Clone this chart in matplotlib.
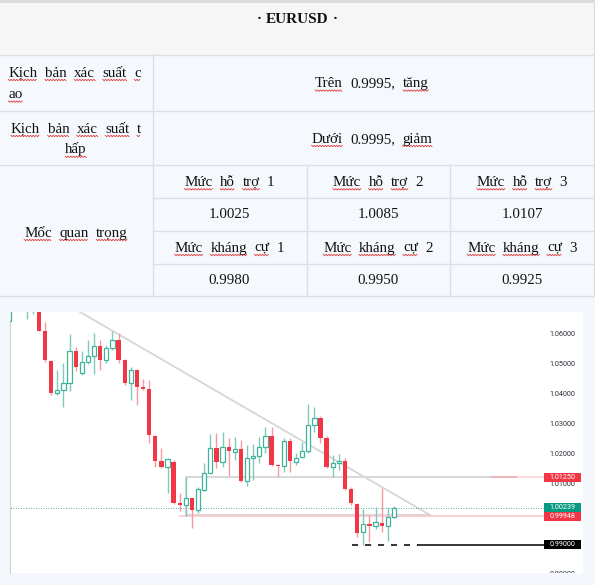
import numpy as np
import matplotlib
matplotlib.use('Agg')
import matplotlib.pyplot as plt
from matplotlib.font_manager import FontProperties
from matplotlib.patches import Rectangle

# bảng thông tin
title = "· EURUSD ·"
high_label = ["Kịch bản xác suất c", "ao"]
high_text = "Trên 0.9995, tăng"
low_label = ["Kịch bản xác suất t", "hấp"]
low_text = "Dưới 0.9995, giảm"
key_label = "Mốc quan trọng"
support_names = ["Mức hỗ trợ 1", "Mức hỗ trợ 2", "Mức hỗ trợ 3"]
support_values = ["1.0025", "1.0085", "1.0107"]
resist_names = ["Mức kháng cự 1", "Mức kháng cự 2", "Mức kháng cự 3"]
resist_values = ["0.9980", "0.9950", "0.9925"]

# nến ngày EURUSD
opens = [1.0645, 1.0700, 1.0730, 1.0685, 1.0690,
         1.0700, 1.0613, 1.0513, 1.0406, 1.0415, 1.0439, 1.0545, 1.0472, 1.0509, 1.0530,
         1.0563, 1.0517, 1.0556, 1.0581, 1.0517, 1.0439, 1.0483, 1.0426, 1.0418, 1.0262,
         1.0180, 1.0158, 1.0175, 1.0040, 1.0032, 1.0055, 1.0016, 1.0082, 1.0140, 1.0223,
         1.0177, 1.0227, 1.0209, 1.0218, 1.0113, 1.0190, 1.0197, 1.0227, 1.0262, 1.0166,
         1.0163, 1.0247, 1.0175, 1.0193, 1.0212, 1.0299, 1.0321, 1.0257, 1.0158, 1.0173,
         1.0179, 1.0085, 1.0035, 0.9941, 0.9969, 0.9962, 0.9973, 0.9963, 0.9993]
highs = [1.0720, 1.0745, 1.0750, 1.0725, 1.0725,
         1.0705, 1.0642, 1.0517, 1.0483, 1.0506, 1.0602, 1.0558, 1.0545, 1.0581, 1.0606,
         1.0581, 1.0567, 1.0613, 1.0606, 1.0520, 1.0491, 1.0487, 1.0453, 1.0449, 1.0266,
         1.0221, 1.0188, 1.0182, 1.0071, 1.0125, 1.0057, 1.0093, 1.0171, 1.0269, 1.0273,
         1.0277, 1.0257, 1.0258, 1.0249, 1.0232, 1.0236, 1.0258, 1.0291, 1.0293, 1.0168,
         1.0255, 1.0255, 1.0205, 1.0243, 1.0369, 1.0360, 1.0329, 1.0262, 1.0199, 1.0202,
         1.0188, 1.0093, 1.0038, 1.0018, 0.9999, 1.0027, 1.0090, 1.0027, 1.0029]
lows = [1.0642, 1.0690, 1.0690, 1.0653, 1.0669,
        1.0612, 1.0509, 1.0400, 1.0398, 1.0358, 1.0413, 1.0480, 1.0465, 1.0502, 1.0470,
        1.0483, 1.0506, 1.0550, 1.0506, 1.0433, 1.0383, 1.0367, 1.0416, 1.0238, 1.0160,
        1.0155, 1.0073, 1.0036, 1.0013, 0.9996, 0.9955, 1.0007, 1.0080, 1.0138, 1.0155,
        1.0160, 1.0130, 1.0182, 1.0108, 1.0097, 1.0116, 1.0171, 1.0205, 1.0163, 1.0125,
        1.0143, 1.0143, 1.0166, 1.0188, 1.0205, 1.0277, 1.0238, 1.0155, 1.0125, 1.0149,
        1.0083, 1.0032, 0.9927, 0.9899, 0.9910, 0.9952, 0.9943, 0.9913, 0.9988]
closes = [1.0700, 1.0730, 1.0705, 1.0712, 1.0715,
          1.0613, 1.0517, 1.0406, 1.0415, 1.0439, 1.0545, 1.0491, 1.0509, 1.0530, 1.0563,
          1.0517, 1.0556, 1.0581, 1.0517, 1.0439, 1.0483, 1.0426, 1.0419, 1.0266, 1.0180,
          1.0158, 1.0186, 1.0038, 1.0033, 1.0055, 1.0016, 1.0085, 1.0140, 1.0223, 1.0177,
          1.0227, 1.0213, 1.0218, 1.0113, 1.0190, 1.0197, 1.0227, 1.0262, 1.0166, 1.0163,
          1.0247, 1.0180, 1.0190, 1.0212, 1.0299, 1.0321, 1.0257, 1.0158, 1.0171, 1.0179,
          1.0085, 1.0038, 0.9940, 0.9969, 0.9962, 0.9977, 0.9963, 0.9993, 1.00239]

# mức giá trên trục phải
price_ticks = [1.06, 1.05, 1.04, 1.03, 1.02, 1.01, 0.98]
mark_prices = [1.0125, 1.00239, 0.99948, 0.99]
mark_colors = ['#f23645', '#089981', '#f23645', '#000000']

# đường xu hướng, vùng giá
trend_x = [10.0, 68.9]
trend_y = [1.0696, 0.9999]
zone_x = [79.0, 29.0, 29.0, 68.9]
zone_y = [1.0125, 1.0125, 0.9999, 0.9999]
support_line = 0.99948
support_start = 28.0
last_price = 1.00239
low_line = 0.99
low_dash = [56.1, 66.9]
label_x = 87.5

UP, DN = '#3fb39b', '#f23645'
UP_W, DN_W = '#7fcbb9', '#f59aa2'

fig = plt.figure(figsize=(5.95, 5.85), dpi=100, facecolor='#f4f7fb')

# ---------- bảng ----------
tab = fig.add_axes([0, 0, 1, 1])
tab.set_xlim(0, 595)
tab.set_ylim(585, 0)
tab.axis('off')

tab.add_patch(Rectangle((0, 0), 595, 2.7, color='#dcdcdc', lw=0))
tab.add_patch(Rectangle((0, 2.7), 595, 52.3, color='#f6f6f6', lw=0))
tab.add_patch(Rectangle((0, 55), 595, 241, color='#f5f9fd', lw=0))

grid = dict(color='#dcdfe3', lw=1.0)
for yy in [55, 110.5, 164.5, 296]:
    tab.plot([0, 595], [yy, yy], **grid)
for yy in [197.5, 230.5, 263.5]:
    tab.plot([152.5, 595], [yy, yy], **grid)
tab.plot([152.5, 152.5], [55, 296], **grid)
for xx in [306.5, 449.5]:
    tab.plot([xx, xx], [164.5, 296], **grid)
tab.plot([594, 594], [0, 296], **grid)

renderer = fig.canvas.get_renderer()
serif = FontProperties(family='Liberation Serif', size=10.8)
serif_b = FontProperties(family='Liberation Serif', size=11, weight='bold')


def squiggle(x0, x1, y):
    xs = np.arange(x0, x1 + 0.01, 1.4)
    ys = y + np.where(np.arange(len(xs)) % 2 == 0, -0.7, 0.7)
    tab.plot(xs, ys, color='#e23b3b', lw=0.6)


def words_line(text, x, y, ha='center', gap=7.5, prop=serif, squig=True):
    words = text.split()
    widths = [renderer.get_text_width_height_descent(w, prop, ismath=False)[0] for w in words]
    total = sum(widths) + gap * (len(words) - 1)
    xs = x - total / 2 if ha == 'center' else x
    for w, wd in zip(words, widths):
        tab.text(xs, y, w, fontproperties=prop, ha='left', va='baseline', color='#111111')
        if squig and not any(ch.isdigit() for ch in w):
            squiggle(xs, xs + wd, y + 3.3)
        xs += wd + gap


words_line(title, 297, 23.3, prop=serif_b, gap=4, squig=False)
words_line(high_label[0], 8.3, 76.7, ha='left')
words_line(high_label[1], 8.3, 98.3, ha='left')
words_line(high_text, 372, 87.3)
words_line(low_label[0], 76, 132.7)
words_line(low_label[1], 76, 153.5)
words_line(low_text, 372, 142.7)
words_line(key_label, 76, 236.7)

col_centers = [229.5, 378, 522]
for i in range(3):
    words_line(support_names[i], col_centers[i], 186)
    words_line(support_values[i], col_centers[i], 218.3)
    words_line(resist_names[i], col_centers[i], 251.7)
    words_line(resist_values[i], col_centers[i], 284.3)

# ---------- biểu đồ nến ----------
ax = fig.add_axes([9.5 / 595, (585 - 573) / 585, (583 - 9.5) / 595, (573 - 312) / 585])
ax.set_facecolor('white')
x = np.arange(len(opens))
o, h, l, c = map(np.array, (opens, highs, lows, closes))
up = c >= o
bottom = np.minimum(o, c)
height = np.maximum(np.abs(c - o), 0.00035)

ax.vlines(x[up], l[up], h[up], color=UP_W, lw=1.0, zorder=2)
ax.vlines(x[~up], l[~up], h[~up], color=DN_W, lw=1.0, zorder=2)
ax.bar(x[up], height[up], bottom=bottom[up], width=0.7, facecolor='white',
       edgecolor=UP, linewidth=0.9, zorder=3)
ax.bar(x[~up], height[~up], bottom=bottom[~up], width=0.7, color=DN, lw=0, zorder=3)

ax.plot(trend_x, trend_y, color='#d6d6d6', lw=1.3, zorder=1)
ax.plot(zone_x, zone_y, color='#d9d9d9', lw=1.5, zorder=1)
ax.plot([zone_x[0], label_x], [zone_y[0], zone_y[0]], color='#f9d3d6', lw=1.2, zorder=1)
ax.plot([zone_x[0], zone_x[0] + 4], [zone_y[0], zone_y[0]], color='#efb5ba', lw=1.4, zorder=1)
ax.plot([support_start, label_x], [support_line, support_line], color='#f9c9cd', lw=1.2, zorder=1)
ax.plot([0, label_x], [last_price, last_price], color='#089981', lw=0.6,
        ls=(0, (1, 2)), zorder=1)
ax.plot(low_dash, [low_line, low_line], color='black', lw=1.1, ls=(0, (4, 4.5)), zorder=1)
ax.plot([low_dash[1], label_x], [low_line, low_line], color='black', lw=1.1, zorder=1)

ax.set_xlim(0.18, 93.9)
ax.set_ylim(1.06 - (573 - 334.7) / 3000, 1.06 - (312 - 334.7) / 3000)
ax.set_xticks([])
ax.set_yticks([])
for s in ['top', 'right', 'bottom']:
    ax.spines[s].set_visible(False)
ax.spines['left'].set_color('#d0d0d0')
ax.spines['left'].set_linewidth(0.8)

lab_font = dict(family='Roboto', size=5.2)
for p in price_ticks:
    ax.text(90.55, p, f"{p:.5f}", ha='center', va='center', color='#2a2e39',
            clip_on=True, **lab_font)
for p, col in zip(mark_prices, mark_colors):
    ax.add_patch(Rectangle((label_x, p - 0.00145), 6.05, 0.0029, color=col, lw=0,
                           zorder=5, clip_on=False))
    ax.text(90.55, p, f"{p:.5f}", ha='center', va='center', color='white',
            zorder=6, **lab_font)

fig.savefig('out.png', dpi=100, facecolor=fig.get_facecolor())
